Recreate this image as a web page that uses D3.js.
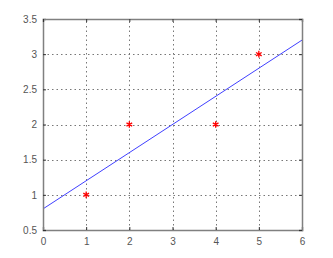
<!DOCTYPE html>
<html><head><meta charset="utf-8">
<script src="https://cdn.jsdelivr.net/npm/d3@7"></script>
<style>body{margin:0;background:#fff}svg{display:block}text{font-family:"Liberation Sans",Arial,sans-serif}</style>
</head><body>
<script>
const xPts = [1, 2, 4, 5];
const yPts = [1, 2, 2, 3];
const lineX = [0, 6];
const lineY = [0.8, 3.2];
const xTicks = [0, 1, 2, 3, 4, 5, 6];
const yTicks = [0.5, 1, 1.5, 2, 2.5, 3, 3.5];

const W = 333, H = 258;
const m = {l: 43, r: 31, t: 19, b: 28};
const svg = d3.select("body").append("svg").attr("width", W).attr("height", H);
const x = d3.scaleLinear().domain([0, 6]).range([m.l, W - m.r]);
const y = d3.scaleLinear().domain([0.5, 3.5]).range([H - m.b, m.t]);

const g = svg.append("g");
// grid
g.selectAll(".gx").data(xTicks.slice(1, -1)).join("line")
  .attr("x1", d => Math.round(x(d)) + 0.5).attr("x2", d => Math.round(x(d)) + 0.5)
  .attr("y1", y(0.5)).attr("y2", y(3.5))
  .attr("stroke", "#777").attr("stroke-width", 1).attr("stroke-dasharray", "1.5,3");
g.selectAll(".gy").data(yTicks.slice(1, -1)).join("line")
  .attr("y1", d => Math.round(y(d)) + 0.5).attr("y2", d => Math.round(y(d)) + 0.5)
  .attr("x1", x(0)).attr("x2", x(6))
  .attr("stroke", "#777").attr("stroke-width", 1).attr("stroke-dasharray", "1.5,3");

// fit line
g.append("path").datum(lineX.map((v, i) => [v, lineY[i]]))
  .attr("d", d3.line().x(d => x(d[0])).y(d => y(d[1])))
  .attr("stroke", "#4040ff").attr("fill", "none").attr("stroke-width", 1);

// markers (asterisks)
const star = d3.symbol().type(d3.symbolAsterisk).size(30);
g.selectAll(".pt").data(xPts.map((v, i) => [v, yPts[i]])).join("path")
  .attr("transform", d => `translate(${x(d[0])},${y(d[1])})`)
  .attr("d", star).attr("stroke", "#ff0000").attr("stroke-width", 1.3).attr("fill", "none");

// axes
const ax = d3.axisBottom(x).tickValues(xTicks).tickSize(-3).tickPadding(8).tickFormat(d3.format("d"));
const ay = d3.axisLeft(y).tickValues(yTicks).tickSize(-3).tickPadding(6).tickFormat(d => String(d));
const gx = svg.append("g").attr("transform", `translate(0,${y(0.5)})`).call(ax);
const gy = svg.append("g").attr("transform", `translate(${x(0)},0)`).call(ay);
const gx2 = svg.append("g").attr("transform", `translate(0,${y(3.5)})`).call(d3.axisTop(x).tickValues(xTicks).tickSize(-3).tickFormat(""));
const gy2 = svg.append("g").attr("transform", `translate(${x(6)},0)`).call(d3.axisRight(y).tickValues(yTicks).tickSize(-3).tickFormat(""));
[gx, gy, gx2, gy2].forEach(a => {
  a.select(".domain").attr("stroke", "#808080").attr("stroke-width", 1.5);
  a.selectAll(".tick line").attr("stroke", "#333");
  a.selectAll("text").attr("fill", "#555").style("font-size", "10px");
});
</script>
</body></html>
